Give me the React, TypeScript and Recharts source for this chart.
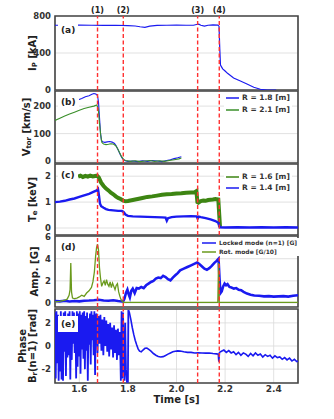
import React from 'react';
import {
  LineChart,
  Line,
  XAxis,
  YAxis,
  CartesianGrid,
  ReferenceLine,
  ReferenceArea,
  Legend,
} from 'recharts';

const FONT = '"DejaVu Sans", Verdana, sans-serif';

// ---------- shared axis data ----------
const X_DOMAIN = [1.5, 2.5];
const X_TICKS = [1.6, 1.8, 2.0, 2.2, 2.4];
const EVENT_TIMES = [1.675, 1.781, 2.087, 2.176];
const EVENT_LABELS = ['(1)', '(2)', '(3)', '(4)'];

// ---------- (a) plasma current ----------
const IP_T = [1.5, 1.55, 1.6, 1.65, 1.7, 1.75, 1.8, 1.83, 1.85, 1.87, 1.89, 1.92, 1.96, 2.0, 2.04, 2.07, 2.082, 2.092, 2.1, 2.115, 2.13, 2.15, 2.17, 2.175, 2.178, 2.181, 2.19, 2.2, 2.21, 2.235, 2.263, 2.29, 2.318, 2.345, 2.373, 2.41];
const IP_V = [700, 700, 702, 700, 698, 700, 697, 692, 684, 678, 690, 698, 700, 702, 700, 700, 708, 712, 700, 690, 700, 703, 702, 690, 450, 270, 228, 205, 180, 130, 97, 65, 30, 8, 0, 0];

// ---------- (b) toroidal rotation ----------
const VB_T = [1.594, 1.61, 1.625, 1.64, 1.652, 1.66, 1.668, 1.675, 1.679, 1.683, 1.687, 1.691, 1.696, 1.705, 1.715, 1.725, 1.735, 1.745, 1.752, 1.76, 1.768, 1.775, 1.782, 1.79, 1.8, 1.82, 1.84, 1.86, 1.88, 1.9, 1.92, 1.94, 1.96, 1.975, 1.99, 2.005, 2.02];
const VB_V = [222, 228, 234, 238, 243, 246, 244, 238, 215, 160, 105, 75, 70, 68, 70, 71, 69, 64, 55, 40, 25, 12, 5, 1, -1, 0, -2, 1, -1, 2, 0, -2, 2, 5, 9, 12, 16];
const VG_T = [1.5, 1.52, 1.54, 1.56, 1.58, 1.6, 1.62, 1.64, 1.66, 1.672, 1.678, 1.683, 1.688, 1.693, 1.7, 1.71, 1.72, 1.73, 1.74, 1.75, 1.758, 1.766, 1.774, 1.782, 1.79, 1.81, 1.83, 1.85, 1.87, 1.89, 1.91, 1.93, 1.95, 1.97, 1.99, 2.01, 2.02];
const VG_V = [148, 156, 164, 171, 178, 185, 191, 196, 200, 204, 190, 140, 95, 68, 62, 60, 61, 63, 62, 56, 45, 30, 16, 6, 2, -1, 1, -2, 0, 2, -1, 1, -1, 2, 5, 8, 11];

// ---------- (c) electron temperature ----------
const TG_T = [1.595, 1.605, 1.615, 1.625, 1.635, 1.645, 1.655, 1.665, 1.673, 1.68, 1.69, 1.7, 1.71, 1.72, 1.73, 1.74, 1.75, 1.76, 1.77, 1.78, 1.79, 1.8, 1.82, 1.84, 1.86, 1.88, 1.9, 1.92, 1.94, 1.96, 1.98, 2.0, 2.02, 2.04, 2.06, 2.075, 2.082, 2.086, 2.09, 2.1, 2.11, 2.12, 2.13, 2.14, 2.15, 2.16, 2.172, 2.176, 2.179];
const TG_V = [1.98, 2.02, 1.97, 2.01, 1.98, 2.02, 1.99, 2.01, 2.02, 1.95, 1.75, 1.62, 1.52, 1.45, 1.36, 1.3, 1.22, 1.16, 1.12, 1.06, 1.03, 1.04, 1.08, 1.12, 1.16, 1.2, 1.22, 1.25, 1.28, 1.3, 1.31, 1.33, 1.34, 1.36, 1.37, 1.38, 1.42, 1.0, 0.98, 1.04, 1.06, 1.05, 1.08, 1.09, 1.1, 1.12, 1.1, 0.5, 0.04];
const TB_T = [1.5, 1.52, 1.54, 1.56, 1.58, 1.6, 1.62, 1.64, 1.66, 1.672, 1.677, 1.681, 1.685, 1.69, 1.7, 1.71, 1.72, 1.74, 1.76, 1.775, 1.782, 1.79, 1.8, 1.82, 1.85, 1.88, 1.91, 1.94, 1.955, 1.96, 1.965, 1.98, 2.0, 2.03, 2.06, 2.083, 2.087, 2.092, 2.1, 2.12, 2.14, 2.16, 2.172, 2.178, 2.2, 2.25, 2.3, 2.35, 2.4, 2.45, 2.5];
const TB_V = [1.0, 1.02, 1.05, 1.1, 1.14, 1.2, 1.26, 1.32, 1.4, 1.45, 1.5, 1.25, 0.95, 0.84, 0.78, 0.73, 0.7, 0.68, 0.66, 0.66, 0.62, 0.52, 0.47, 0.45, 0.44, 0.43, 0.42, 0.41, 0.4, 0.28, 0.38, 0.42, 0.44, 0.45, 0.46, 0.45, 0.36, 0.44, 0.42, 0.38, 0.33, 0.27, 0.2, 0.03, 0.02, 0.03, 0.02, 0.03, 0.02, 0.03, 0.02];

// ---------- (d) mode amplitudes ----------
const LM_T = [1.5, 1.52, 1.54, 1.56, 1.58, 1.6, 1.62, 1.64, 1.66, 1.68, 1.7, 1.72, 1.74, 1.76, 1.78, 1.786, 1.792, 1.798, 1.803, 1.808, 1.814, 1.82, 1.828, 1.836, 1.845, 1.855, 1.865, 1.875, 1.885, 1.895, 1.905, 1.915, 1.925, 1.935, 1.945, 1.955, 1.965, 1.975, 1.985, 1.995, 2.005, 2.015, 2.03, 2.045, 2.06, 2.075, 2.085, 2.095, 2.105, 2.115, 2.125, 2.135, 2.145, 2.155, 2.165, 2.173, 2.177, 2.181, 2.186, 2.192, 2.198, 2.204, 2.21, 2.218, 2.226, 2.236, 2.246, 2.256, 2.266, 2.276, 2.29, 2.305, 2.32, 2.34, 2.36, 2.38, 2.4, 2.42, 2.44, 2.46, 2.48, 2.5];
const LM_V = [0.18, 0.15, 0.2, 0.14, 0.18, 0.15, 0.2, 0.22, 0.25, 0.3, 0.22, 0.2, 0.25, 0.18, 0.12, 0.4, 0.9, 1.2, 0.8, 0.5, 1.1, 1.3, 0.9, 1.35, 1.3, 1.45, 1.35, 1.6, 1.75, 1.9, 2.0, 2.2, 2.3, 2.25, 2.45, 2.35, 2.15, 2.05, 2.3, 2.5, 2.7, 2.95, 3.1, 3.25, 3.4, 3.55, 3.65, 3.5, 3.3, 3.1, 3.0, 3.15, 3.35, 3.6, 3.8, 4.0, 2.2, 0.9, 1.05, 1.5, 1.75, 1.6, 1.7, 1.45, 1.4, 1.3, 1.35, 1.2, 1.15, 1.0, 0.85, 0.75, 0.68, 0.65, 0.6, 0.62, 0.58, 0.6, 0.62, 0.58, 0.65, 0.7];
const RM_T = [1.5, 1.52, 1.54, 1.55, 1.558, 1.562, 1.565, 1.568, 1.572, 1.58, 1.59, 1.6, 1.61, 1.62, 1.63, 1.64, 1.65, 1.656, 1.662, 1.667, 1.671, 1.675, 1.679, 1.683, 1.687, 1.692, 1.697, 1.702, 1.707, 1.712, 1.717, 1.722, 1.727, 1.732, 1.737, 1.742, 1.747, 1.752, 1.757, 1.762, 1.767, 1.772, 1.777, 1.782, 1.8, 1.9, 2.0, 2.1, 2.17, 2.173, 2.176, 2.2, 2.3, 2.4, 2.5];
const RM_V = [0.1, 0.15, 0.25, 0.35, 0.7, 1.2, 3.6, 1.0, 0.45, 0.4, 0.45, 0.55, 0.7, 0.6, 0.9, 1.1, 1.4, 1.9, 2.8, 4.2, 5.0, 5.3, 4.8, 3.2, 2.3, 1.5, 1.8, 2.0, 1.6, 2.1, 1.7, 1.5, 1.9, 1.4, 1.8, 1.5, 1.2, 1.6, 1.75, 1.0, 0.6, 0.3, 0.15, 0.05, 0.05, 0.05, 0.05, 0.05, 0.05, 3.6, 0.05, 0.05, 0.05, 0.05, 0.05];

// ---------- (e) phase of n=1 Br ----------
const PH_NOISE_T = [1.5, 1.503, 1.506, 1.509, 1.512, 1.515, 1.518, 1.521, 1.524, 1.527, 1.53, 1.533, 1.536, 1.539, 1.542, 1.545, 1.548, 1.551, 1.554, 1.557, 1.56, 1.563, 1.566, 1.569, 1.572, 1.575, 1.578, 1.581, 1.584, 1.587, 1.59, 1.593, 1.596, 1.599, 1.602, 1.605, 1.608, 1.611, 1.614, 1.617, 1.62, 1.623, 1.626, 1.629, 1.632, 1.635, 1.638, 1.641, 1.644, 1.647, 1.65, 1.653, 1.656, 1.659, 1.662, 1.665, 1.668];
const PH_NOISE_V = [2.9, -2.8, 3.0, -1.5, 2.7, -3.0, 2.4, -2.2, 3.0, -2.9, 1.8, -3.0, 2.9, -0.5, 3.0, -2.6, 2.2, -1.0, 2.8, -0.8, 3.0, -2.9, 2.5, -1.2, 3.0, 0.2, 2.9, -0.6, 2.6, -2.8, 3.0, -1.8, 2.8, -0.9, 3.0, -2.4, 2.7, -0.3, 2.9, -1.1, 3.0, -2.0, 2.6, -0.4, 2.9, -3.0, 2.4, 0.1, 2.8, -1.6, 3.0, 0.5, 2.7, -0.8, 3.0, -2.5, 2.6];
const PH_BAND_T = [1.671, 1.675, 1.679, 1.683, 1.687, 1.691, 1.695, 1.699, 1.703, 1.707, 1.711, 1.715, 1.719, 1.723, 1.727, 1.731, 1.735, 1.739, 1.743, 1.747, 1.751, 1.755, 1.759, 1.763, 1.767];
const PH_BAND_V = [2.8, -0.6, 2.6, 0.2, 2.7, -0.4, 2.3, -0.8, 2.5, 0.0, 2.2, -0.5, 1.9, -0.9, 2.0, -0.3, 1.6, -1.0, 1.8, -0.6, 1.4, -1.2, 1.5, -0.8, 1.2];
const PH_WRAP_T = [1.771, 1.774, 1.777, 1.78, 1.783, 1.786, 1.789, 1.792, 1.796, 1.8, 1.802];
const PH_WRAP_V = [-3.0, 3.0, -2.8, 2.9, -1.0, -3.0, 2.0, -2.0, -3.1, -3.1, 3.1];
const PH_DECAY_T = [1.802, 1.806, 1.812, 1.818, 1.824, 1.83, 1.836, 1.842, 1.848, 1.855, 1.862, 1.87, 1.878, 1.886, 1.895, 1.905, 1.915, 1.925, 1.935, 1.945, 1.955, 1.965, 1.975, 1.985, 1.995, 2.005, 2.015, 2.03, 2.045, 2.06, 2.075, 2.09, 2.105, 2.12, 2.135, 2.15, 2.165, 2.172, 2.174, 2.177, 2.185, 2.195, 2.205, 2.215, 2.225, 2.235, 2.245, 2.255, 2.265, 2.275, 2.285, 2.295, 2.305, 2.315, 2.325, 2.335, 2.345, 2.355, 2.365, 2.375, 2.385, 2.395, 2.405, 2.415, 2.425, 2.435, 2.445, 2.455, 2.465, 2.475, 2.485, 2.495, 2.5];
const PH_DECAY_V = [3.1, 2.9, 2.3, 1.6, 1.0, 0.5, 0.1, -0.25, -0.45, -0.5, -0.35, -0.2, -0.18, -0.3, -0.45, -0.65, -0.8, -0.9, -0.95, -0.92, -0.82, -0.7, -0.6, -0.5, -0.45, -0.42, -0.44, -0.5, -0.55, -0.55, -0.6, -0.58, -0.6, -0.62, -0.6, -0.65, -0.68, -0.7, -1.35, -0.55, -0.45, -0.35, -0.55, -0.4, -0.6, -0.5, -0.75, -0.55, -0.8, -0.6, -0.7, -0.9, -0.65, -0.85, -0.6, -0.8, -0.7, -0.95, -0.75, -0.9, -0.8, -1.05, -0.85, -1.0, -0.95, -1.15, -1.0, -1.2, -1.05, -1.3, -1.15, -1.35, -1.3];

// ---------- helpers ----------
const zip = (t: number[], v: number[]) => {
  const n = Math.min(t.length, v.length);
  const out: { t: number; v: number }[] = [];
  for (let i = 0; i < n; i++) out.push({ t: t[i], v: v[i] });
  return out;
};

const BLUE = '#1a1af0';
const GREEN = '#3a8f2a';
const TE_GREEN = '#3d8512';
const ROT_GREEN = '#6a9a1c';
const RED = '#ff3030';
const FRAME = '#444';

type Series = { name?: string; data: { t: number; v: number }[]; color: string; width: number };

type PanelProps = {
  plotTop: number;
  plotBottom: number;
  yDomain: number[];
  yTicks: number[];
  tag: string;
  tagDy: number;
  yLabel: React.ReactNode[];
  yLabelX: number[];
  series: Series[];
  legend?: { top: number; left: number; fontSize: number; lineW: number; rowH: number };
  topEventLabels?: boolean;
  showX?: boolean;
};

const PAD_T = 16;

function Panel(p: PanelProps) {
  const padB = p.showX ? 36 : 4;
  const h = p.plotBottom - p.plotTop + PAD_T + padB;
  const names = p.series.filter((s) => s.name).map((s) => s.name as string);

  const yLabelContent = (props: any) => {
    const vb = props.viewBox || {};
    const cy = vb.y + vb.height / 2;
    return (
      <g>
        {p.yLabel.map((ln, i) => (
          <text
            key={i}
            x={p.yLabelX[i]}
            y={cy}
            transform={`rotate(-90 ${p.yLabelX[i]} ${cy})`}
            textAnchor="middle"
            dominantBaseline="central"
            fontFamily={FONT}
            fontWeight="bold"
            fontSize={10}
            fill="#222"
          >
            {ln}
          </text>
        ))}
      </g>
    );
  };

  const xLabelContent = (props: any) => {
    const vb = props.viewBox || {};
    return (
      <text x={vb.x + vb.width / 2} y={vb.y + 20} textAnchor="middle" fontFamily={FONT} fontWeight="bold" fontSize={10} fill="#222">
        Time [s]
      </text>
    );
  };

  const legendContent = (props: any) => {
    const lg = p.legend!;
    const items = [...(props.payload || [])].sort((a: any, b: any) => names.indexOf(a.value) - names.indexOf(b.value));
    return (
      <div style={{ background: '#fff', padding: '0 2px' }}>
        {items.map((it: any) => (
          <div key={it.value} style={{ display: 'flex', alignItems: 'center', height: lg.rowH }}>
            <svg width={lg.lineW} height={4} style={{ display: 'block' }}>
              <line x1={0} x2={lg.lineW} y1={2} y2={2} stroke={it.color} strokeWidth={1.5} />
            </svg>
            <span
              style={{
                marginLeft: 3,
                fontFamily: FONT,
                fontWeight: 'bold',
                fontSize: lg.fontSize,
                color: '#333',
                whiteSpace: 'nowrap',
                lineHeight: 1,
              }}
            >
              {it.value}
            </span>
          </div>
        ))}
      </div>
    );
  };

  return (
    <div style={{ position: 'absolute', left: 0, top: p.plotTop - PAD_T, width: 334, height: h }}>
      <LineChart width={334} height={h} margin={{ top: PAD_T, right: 36, bottom: p.showX ? 0 : padB, left: 0 }}>
        <CartesianGrid stroke="#d9d9d9" strokeWidth={0.8} />
        <XAxis
          type="number"
          dataKey="t"
          domain={X_DOMAIN}
          ticks={X_TICKS}
          allowDataOverflow
          height={p.showX ? 36 : 0}
          axisLine={false}
          tickLine={false}
          tickSize={0}
          tickMargin={3}
          tick={p.showX ? { fontSize: 9, fontWeight: 'bold', fill: '#333', fontFamily: FONT } : false}
          tickFormatter={(v: number) => v.toFixed(1)}
          label={p.showX ? xLabelContent : undefined}
        />
        <YAxis
          type="number"
          domain={p.yDomain}
          ticks={p.yTicks}
          allowDataOverflow
          width={55}
          axisLine={false}
          tickLine={false}
          tickSize={0}
          tickMargin={4}
          interval={0}
          tick={{ fontSize: 8.5, fontWeight: 'bold', fill: '#333', fontFamily: FONT }}
          label={yLabelContent}
        />
        {p.series.map((s, i) => (
          <Line
            key={i}
            data={s.data}
            dataKey="v"
            name={s.name}
            stroke={s.color}
            strokeWidth={s.width}
            dot={false}
            activeDot={false}
            type="linear"
            isAnimationActive={false}
            legendType={s.name ? 'line' : 'none'}
          />
        ))}
        {EVENT_TIMES.map((x, i) => (
          <ReferenceLine
            key={i}
            x={x}
            stroke={RED}
            strokeOpacity={1}
            strokeWidth={1.4}
            strokeDasharray="4 2.5"
            label={
              p.topEventLabels
                ? { value: EVENT_LABELS[i], position: 'top', offset: 3, fontSize: 8, fontWeight: 'bold', fill: '#222', fontFamily: FONT }
                : undefined
            }
          />
        ))}
        <ReferenceArea
          x1={X_DOMAIN[0]}
          x2={X_DOMAIN[1]}
          y1={p.yDomain[0]}
          y2={p.yDomain[1]}
          fill="none"
          fillOpacity={0}
          stroke={FRAME}
          strokeWidth={1.6}
          ifOverflow="visible"
        />
        {p.legend && (
          <Legend
            layout="vertical"
            align="center"
            verticalAlign="middle"
            content={legendContent}
            wrapperStyle={{ top: p.legend.top, left: p.legend.left, width: 'auto', height: 'auto', right: 'auto', bottom: 'auto' }}
          />
        )}
      </LineChart>
      <div
        style={{
          position: 'absolute',
          left: 58,
          top: PAD_T + p.tagDy - 8,
          height: 16,
          lineHeight: '16px',
          padding: '0 3px',
          background: '#fff',
          fontFamily: FONT,
          fontWeight: 'bold',
          fontSize: 9,
          color: '#222',
        }}
      >
        {p.tag}
      </div>
    </div>
  );
}

const sub = (main: string, s: string, rest: string) => (
  <>
    <tspan>{main}</tspan>
    <tspan fontSize={7} dy={2.5}>
      {s}
    </tspan>
    <tspan dy={-2.5}>{rest}</tspan>
  </>
);

export default function App() {
  return (
    <div style={{ position: 'absolute', left: 0, top: 0, width: 334, height: 419, background: '#fff', overflow: 'hidden' }}>
      <Panel
        plotTop={16}
        plotBottom={90}
        yDomain={[0, 800]}
        yTicks={[0, 400, 800]}
        tag="(a)"
        tagDy={14}
        yLabel={[sub('I', 'P', ' [kA]')]}
        yLabelX={[32]}
        topEventLabels
        series={[{ data: zip(IP_T, IP_V), color: BLUE, width: 1.2 }]}
      />
      <Panel
        plotTop={91}
        plotBottom={163}
        yDomain={[-7, 255]}
        yTicks={[0, 100, 200]}
        tag="(b)"
        tagDy={11}
        yLabel={[sub('V', 'tor', ' [km/s]')]}
        yLabelX={[26]}
        legend={{ top: 17, left: 224, fontSize: 7.5, lineW: 13, rowH: 12 }}
        series={[
          { name: 'R = 1.8 [m]', data: zip(VB_T, VB_V), color: BLUE, width: 1.1 },
          { name: 'R = 2.1 [m]', data: zip(VG_T, VG_V), color: GREEN, width: 1.1 },
        ]}
      />
      <Panel
        plotTop={164}
        plotBottom={235}
        yDomain={[-0.27, 2.47]}
        yTicks={[0, 1, 2]}
        tag="(c)"
        tagDy={11}
        yLabel={[sub('T', 'e', ' [keV]')]}
        yLabelX={[32]}
        legend={{ top: 23, left: 224, fontSize: 7.5, lineW: 13, rowH: 11 }}
        series={[
          { name: 'R = 1.6 [m]', data: zip(TG_T, TG_V), color: TE_GREEN, width: 4 },
          { name: 'R = 1.4 [m]', data: zip(TB_T, TB_V), color: BLUE, width: 2.4 },
        ]}
      />
      <Panel
        plotTop={236}
        plotBottom={307}
        yDomain={[-0.36, 6.05]}
        yTicks={[0, 2, 4, 6]}
        tag="(d)"
        tagDy={11}
        yLabel={['Amp. [G]']}
        yLabelX={[34]}
        legend={{ top: 18, left: 200, fontSize: 6, lineW: 14, rowH: 9 }}
        series={[
          { name: 'Locked mode (n=1) [G]', data: zip(LM_T, LM_V), color: BLUE, width: 2.6 },
          { name: 'Rot. mode [G/10]', data: zip(RM_T, RM_V), color: ROT_GREEN, width: 1.3 },
        ]}
      />
      <Panel
        plotTop={309}
        plotBottom={383}
        yDomain={[-3.2, 3.2]}
        yTicks={[-2, 0, 2]}
        tag="(e)"
        tagDy={15}
        yLabel={['Phase', sub('B', 'r', '(n=1) [rad]')]}
        yLabelX={[22, 32]}
        showX
        series={[
          {
            data: [...zip(PH_NOISE_T, PH_NOISE_V), ...zip(PH_BAND_T, PH_BAND_V), ...zip(PH_WRAP_T, PH_WRAP_V)],
            color: BLUE,
            width: 1.8,
          },
          { data: zip(PH_DECAY_T, PH_DECAY_V), color: BLUE, width: 1.6 },
        ]}
      />
    </div>
  );
}
